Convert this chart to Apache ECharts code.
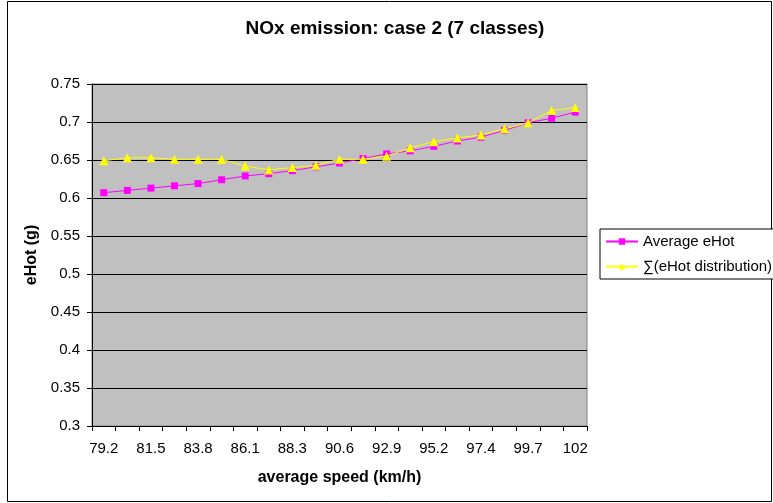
<!DOCTYPE html>
<html>
<head>
<meta charset="utf-8">
<script src="https://cdn.jsdelivr.net/npm/echarts@6/dist/echarts.min.js"></script>
<style>
  html, body { margin: 0; padding: 0; background: #fff; }
  #chart { width: 773px; height: 503px; }
</style>
</head>
<body>
<div id="chart"></div>
<script>
// Average speed classes (km/h)
const speeds = ['79.2', '80.3', '81.5', '82.6', '83.8', '84.9', '86.1', '87.2', '88.3', '89.5',
                '90.6', '91.7', '92.9', '94.0', '95.2', '96.3', '97.4', '98.6', '99.7', '100.8', '102'];

// Hot emission from the average speed (g)
const averageEHot = [0.607, 0.610, 0.613, 0.616, 0.619, 0.624, 0.629, 0.632, 0.636, 0.641,
                     0.646, 0.652, 0.658, 0.662, 0.668, 0.675, 0.680, 0.689, 0.699, 0.705, 0.713];

// Sum of hot emission over the speed distribution (g)
const sumEHotDistribution = [0.649, 0.653, 0.653, 0.651, 0.651, 0.651, 0.642, 0.637, 0.640, 0.643,
                             0.651, 0.651, 0.655, 0.666, 0.674, 0.679, 0.683, 0.691, 0.699, 0.715, 0.719];

const yTicks = { min: 0.3, max: 0.75, interval: 0.05 };

const font = 'Liberation Sans, Arial, sans-serif';
const chart = echarts.init(document.getElementById('chart'));

chart.setOption({
  backgroundColor: '#ffffff',
  animation: false,
  textStyle: { fontFamily: font },
  title: {
    text: 'NOx emission: case 2 (7 classes)',
    left: 395,
    textAlign: 'center',
    top: 19,
    padding: 0,
    textStyle: { fontSize: 19, fontWeight: 'bold', color: '#000', fontFamily: font }
  },
  graphic: [{
    type: 'rect',
    shape: { x: 7.5, y: 1.5, width: 764, height: 500 },
    style: { fill: 'none', stroke: '#000', lineWidth: 1 },
    silent: true,
    z: -1
  }],
  legend: {
    orient: 'vertical',
    left: 600,
    top: 229,
    itemWidth: 32,
    itemHeight: 8,
    itemGap: 10,
    padding: [5, 16, 5, 5],
    borderColor: '#000',
    borderWidth: 1,
    backgroundColor: '#fff',
    textStyle: { fontSize: 15, color: '#000', fontFamily: font },
    data: ['Average eHot', '∑(eHot distribution)']
  },
  grid: {
    left: 92,
    right: 186,
    top: 84,
    bottom: 77,
    show: true,
    backgroundColor: '#c0c0c0',
    borderColor: '#808080',
    borderWidth: 1
  },
  xAxis: {
    type: 'category',
    data: speeds,
    boundaryGap: true,
    name: 'average speed (km/h)',
    nameLocation: 'middle',
    nameGap: 44,
    nameTextStyle: { fontSize: 16, fontWeight: 'bold', color: '#000', fontFamily: font },
    axisLine: { lineStyle: { color: '#000', width: 1 } },
    axisTick: { show: true, interval: 0, alignWithLabel: false, length: 5, lineStyle: { color: '#000' } },
    axisLabel: { interval: 1, fontSize: 15, color: '#000', margin: 15, fontFamily: font },
    splitLine: { show: false }
  },
  yAxis: {
    type: 'value',
    min: yTicks.min,
    max: yTicks.max,
    interval: yTicks.interval,
    name: 'eHot (g)',
    nameLocation: 'middle',
    nameGap: 48,
    nameRotate: 90,
    nameTextStyle: { fontSize: 16, fontWeight: 'bold', color: '#000', fontFamily: font },
    axisLine: { show: true, lineStyle: { color: '#000', width: 1 } },
    axisTick: { show: true, inside: false, length: 5, lineStyle: { color: '#000' } },
    axisLabel: {
      fontSize: 15, color: '#000', margin: 12, fontFamily: font,
      formatter: v => String(parseFloat(v.toFixed(2)))
    },
    splitLine: { show: true, lineStyle: { color: '#000', width: 1 } }
  },
  series: [
    {
      name: 'Average eHot',
      type: 'line',
      data: averageEHot,
      symbol: 'rect',
      symbolSize: 7,
      color: '#ff00ff',
      lineStyle: { color: '#ff00ff', width: 1 },
      itemStyle: { color: '#ff00ff' },
      z: 2
    },
    {
      name: '∑(eHot distribution)',
      type: 'line',
      data: sumEHotDistribution,
      symbol: 'triangle',
      symbolSize: 9,
      color: '#ffff00',
      lineStyle: { color: '#ffff00', width: 1 },
      itemStyle: { color: '#ffff00' },
      z: 3
    }
  ]
});
</script>
</body>
</html>
